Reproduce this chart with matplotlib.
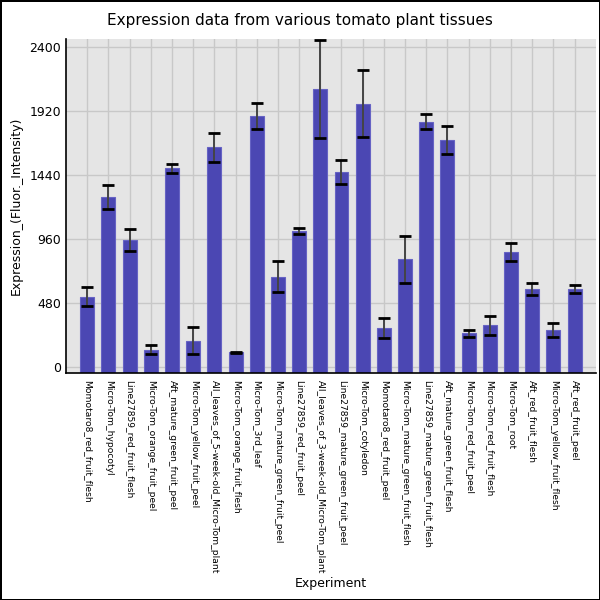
import matplotlib
matplotlib.use('Agg')
import matplotlib.pyplot as plt
import numpy as np

# ========== data ==========
experiments = [
    'Momotaro8_red_fruit_flesh', 'Micro-Tom_hypocotyl', 'Line27859_red_fruit_flesh',
    'Micro-Tom_orange_fruit_peel', 'Aft_mature_green_fruit_peel', 'Micro-Tom_yellow_fruit_peel',
    'All_leaves_of_5-week-old_Micro-Tom_plant', 'Micro-Tom_orange_fruit_flesh', 'Micro-Tom_3rd_leaf',
    'Micro-Tom_mature_green_fruit_peel', 'Line27859_red_fruit_peel',
    'All_leaves_of_3-week-old_Micro-Tom_plant', 'Line27859_mature_green_fruit_peel',
    'Micro-Tom_cotyledon', 'Momotaro8_red_fruit_peel', 'Micro-Tom_mature_green_fruit_flesh',
    'Line27859_mature_green_fruit_flesh', 'Aft_mature_green_fruit_flesh', 'Micro-Tom_red_fruit_peel',
    'Micro-Tom_red_fruit_flesh', 'Micro-Tom_root', 'Aft_red_fruit_flesh',
    'Micro-Tom_yellow_fruit_flesh', 'Aft_red_fruit_peel',
]
expression = [528, 1277, 955, 130, 1492, 198, 1650, 112, 1884, 680, 1020,
              2088, 1465, 1976, 296, 810, 1842, 1704, 255, 313, 866, 583, 278, 584]
errors = [70, 93, 80, 33, 35, 100, 110, 5, 95, 115, 22,
          365, 88, 250, 75, 175, 57, 108, 25, 73, 67, 45, 54, 30]
y_ticks = [0, 480, 960, 1440, 1920, 2400]

YMIN, YMAX = -45, 2462
BAR_COLOR = '#4b47b3'

fig = plt.figure(figsize=(6, 6), dpi=100, edgecolor='black', linewidth=2)
ax = fig.add_axes([0.11, 0.378, 0.883, 0.557])

x = np.arange(len(experiments))
vals = np.array(expression, dtype=float)
ax.bar(x, vals - YMIN, bottom=YMIN, width=0.66, color=BAR_COLOR,
       edgecolor='#6663c4', linewidth=0.8, zorder=2)
# stems in dark grey, caps in black
ax.errorbar(x, vals, yerr=errors, fmt='none', ecolor='#444444', elinewidth=1.4,
            capsize=0, zorder=3)
ax.errorbar(x, vals, yerr=errors, fmt='none', ecolor='black', elinewidth=0,
            capsize=4.5, capthick=2, zorder=4)

ax.set_facecolor('#e5e5e5')
ax.set_xlim(-1, len(experiments))
ax.set_ylim(YMIN, YMAX)
ax.set_yticks(y_ticks)
ax.set_xticks(x)
ax.set_xticklabels(experiments, rotation=-90, fontsize=6.6, va='top', ha='center')
ax.tick_params(axis='y', labelsize=9, length=0, pad=3.5)
ax.tick_params(axis='x', length=0, pad=5)
ax.grid(True, color='#c8c8c8', linewidth=1.0, zorder=0)
ax.set_axisbelow(True)
for s in ('top', 'right'):
    ax.spines[s].set_visible(False)
ax.spines['left'].set_linewidth(1.2)
ax.spines['bottom'].set_linewidth(1.2)

ax.set_ylabel('Expression_(Fluor._Intensity)', fontsize=9, labelpad=5)
fig.text(0.552, 1 - 584 / 600, 'Experiment', ha='center', va='center', fontsize=9)
fig.text(0.5, 0.965, 'Expression data from various tomato plant tissues',
         ha='center', va='center', fontsize=11)

fig.savefig('out.png', dpi=100, edgecolor=fig.get_edgecolor())
